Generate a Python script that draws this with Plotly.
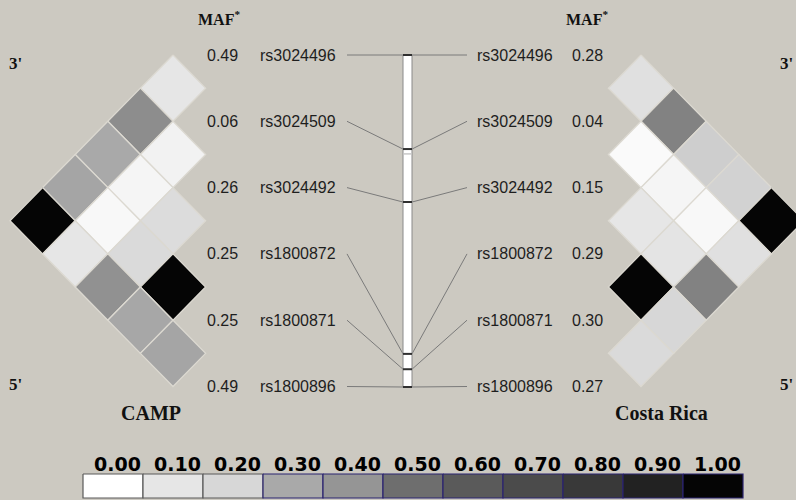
import numpy as np
import plotly.graph_objects as go

# ---------------- data ----------------
snps = ["rs3024496", "rs3024509", "rs3024492", "rs1800872", "rs1800871", "rs1800896"]
maf_camp = [0.49, 0.06, 0.26, 0.25, 0.25, 0.49]
maf_cr = [0.28, 0.04, 0.15, 0.29, 0.30, 0.27]
# position of each SNP along the gene, bp from the 5' SNP
gene_bp = [4914, 3522, 2738, 490, 263, 0]
# pairwise LD (r2), upper triangle: row i holds pairs (i, i+1), (i, i+2), ...
ld_camp = [
    [0.10, 0.42, 0.30, 0.32, 1.00],
    [0.05, 0.04, 0.03, 0.10],
    [0.17, 0.18, 0.41],
    [1.00, 0.31],
    [0.32],
]
ld_cr = [
    [0.14, 0.45, 0.22, 0.21, 1.00],
    [0.02, 0.04, 0.03, 0.14],
    [0.10, 0.11, 0.45],
    [1.00, 0.20],
    [0.18],
]
scale_vals = [0.0, 0.1, 0.2, 0.3, 0.4, 0.5, 0.6, 0.7, 0.8, 0.9, 1.0]
scale_gray = [255, 230, 215, 169, 149, 110, 90, 75, 57, 34, 5]
populations = ["CAMP", "Costa Rica"]

# ---------------- layout constants ----------------
BG = "#ccc9c1"
ROW_TOP, ROW_STEP = 55.0, 66.3
CELL_W = 32.6
LEFT_X1, RIGHT_X1 = 173.0, 641.0
GENE_TOP, GENE_BOT = 55.0, 387.0
BAR_L, BAR_R = 403.0, 412.0
LEG_X0, LEG_W, LEG_Y0, LEG_Y1 = 83.0, 60.0, 474.0, 498.0


def row_y(i):
    return ROW_TOP + ROW_STEP * i


def gene_y(bp):
    return GENE_BOT - bp / max(gene_bp) * (GENE_BOT - GENE_TOP)


def gray_of(v):
    g = int(round(np.interp(v, scale_vals, scale_gray)))
    return f"rgb({g},{g},{g})"


fig = go.Figure()


def add_ld(ld, x1, direction):
    for i, row in enumerate(ld):
        for k, v in enumerate(row):
            j = i + k + 1
            d = j - i
            cx = x1 + direction * (d - 1) * CELL_W
            cy = (row_y(i) + row_y(j)) / 2
            hh = ROW_STEP / 2
            xs = [cx, cx + CELL_W, cx, cx - CELL_W, cx]
            ys = [cy - hh, cy, cy + hh, cy, cy - hh]
            fig.add_trace(go.Scatter(
                x=xs, y=ys, mode="lines", fill="toself",
                fillcolor=gray_of(v), line=dict(color="#dcd9d1", width=1.3),
                hoverinfo="text", text=f"{snps[i]}-{snps[j]}: r2={v:.2f}",
                showlegend=False))


add_ld(ld_camp, LEFT_X1, -1)
add_ld(ld_cr, RIGHT_X1, +1)

# gene bar
fig.add_shape(type="rect", x0=BAR_L, x1=BAR_R, y0=GENE_TOP, y1=GENE_BOT,
              fillcolor="white", line=dict(color="#8a8a8a", width=1))
fig.add_shape(type="line", x0=BAR_L + 1, x1=BAR_R - 1, y0=gene_y(3450), y1=gene_y(3450),
              line=dict(color="#c8c8c8", width=1.5))

lab_font = dict(family="Liberation Sans, Arial", size=16, color="#1e1e1e")
for i, s in enumerate(snps):
    ty = gene_y(gene_bp[i])
    ly = row_y(i)
    # connectors
    fig.add_trace(go.Scatter(x=[347, BAR_L], y=[ly, ty], mode="lines",
                             line=dict(color="#7a7a7a", width=1), hoverinfo="skip", showlegend=False))
    fig.add_trace(go.Scatter(x=[BAR_R, 467], y=[ty, ly], mode="lines",
                             line=dict(color="#7a7a7a", width=1), hoverinfo="skip", showlegend=False))
    # tick on bar
    fig.add_shape(type="line", x0=BAR_L, x1=BAR_R, y0=ty, y1=ty,
                  line=dict(color="#303030", width=2))
    # labels
    fig.add_annotation(x=338, y=ly, text=s, showarrow=False, xanchor="right", font=lab_font)
    fig.add_annotation(x=475, y=ly, text=s, showarrow=False, xanchor="left", font=lab_font)
    fig.add_annotation(x=222, y=ly, text=f"{maf_camp[i]:.2f}", showarrow=False, font=lab_font)
    fig.add_annotation(x=587, y=ly, text=f"{maf_cr[i]:.2f}", showarrow=False, font=lab_font)

serif_b = dict(family="Liberation Serif, Times New Roman", color="#111111")
for x in (219, 587):
    fig.add_annotation(x=x, y=18, text="<b>MAF<sup>*</sup></b>", showarrow=False,
                       font=dict(size=16, **serif_b))
for x, anchor in ((7, "left"), (795, "right")):
    fig.add_annotation(x=x, y=63, text="<b>3'</b>", showarrow=False, xanchor=anchor,
                       font=dict(size=17, **serif_b))
    fig.add_annotation(x=x, y=384, text="<b>5'</b>", showarrow=False, xanchor=anchor,
                       font=dict(size=17, **serif_b))
fig.add_annotation(x=151, y=413, text=f"<b>{populations[0]}</b>", showarrow=False,
                   font=dict(size=20, **serif_b))
fig.add_annotation(x=661, y=413, text=f"<b>{populations[1]}</b>", showarrow=False,
                   font=dict(size=20, **serif_b))

# colour key
for k, v in enumerate(scale_vals):
    x0 = LEG_X0 + k * LEG_W
    g = scale_gray[k]
    edge = "#5a5a5a" if k < 3 else "#2b2470"
    fig.add_trace(go.Scatter(
        x=[x0, x0 + LEG_W, x0 + LEG_W, x0, x0], y=[LEG_Y0, LEG_Y0, LEG_Y1, LEG_Y1, LEG_Y0],
        mode="lines", fill="toself", fillcolor=f"rgb({g},{g},{g})",
        line=dict(color=edge, width=1.2), hoverinfo="skip", showlegend=False))
    fig.add_annotation(x=x0 + LEG_W / 2 + 4, y=464, text=f"<b>{v:.2f}</b>", showarrow=False,
                       font=dict(family="DejaVu Sans", size=19, color="#000000"))

fig.update_layout(
    width=796, height=500, margin=dict(l=0, r=0, t=0, b=0),
    paper_bgcolor=BG, plot_bgcolor=BG, showlegend=False,
    xaxis=dict(range=[0, 796], visible=False, fixedrange=True),
    yaxis=dict(range=[500, 0], visible=False, fixedrange=True),
)

fig.write_html("out.html", config={"displayModeBar": False},
               post_script="document.body.style.margin='0px';document.body.style.overflow='hidden';")
